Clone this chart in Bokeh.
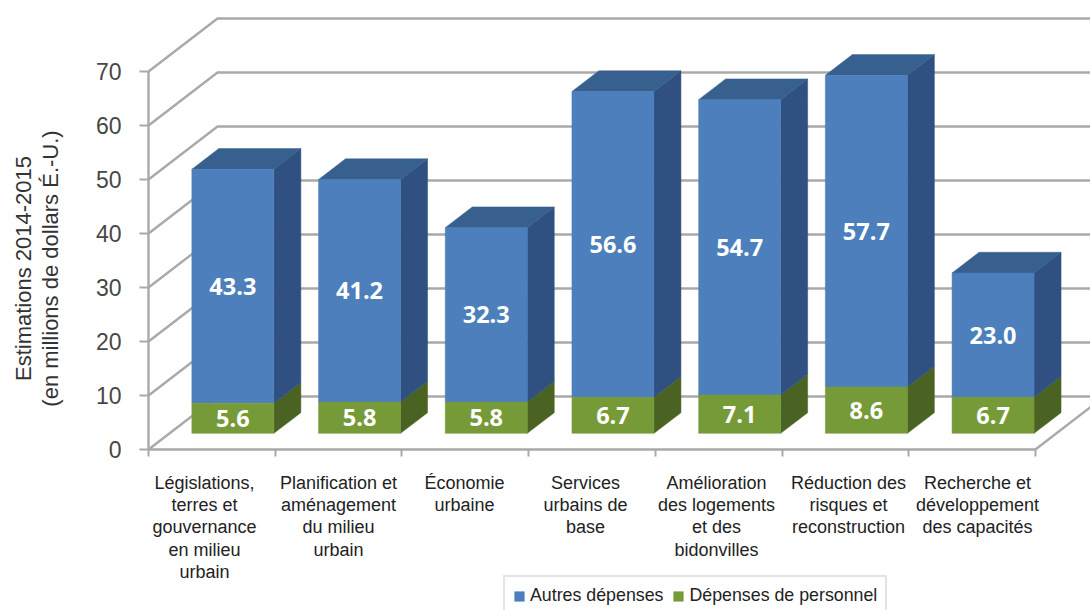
from bokeh.plotting import figure
from bokeh.models import Range1d, FixedTicker, Legend, LegendItem
from bokeh.core.properties import value
from bokeh.embed import file_html
from bokeh.resources import INLINE

# Stacked budget estimates, in millions of US dollars
categories = [
    "Législations,\nterres et\ngouvernance\nen milieu\nurbain",
    "Planification et\naménagement\ndu milieu\nurbain",
    "Économie\nurbaine",
    "Services\nurbains de\nbase",
    "Amélioration\ndes logements\net des\nbidonvilles",
    "Réduction des\nrisques et\nreconstruction",
    "Recherche et\ndéveloppement\ndes capacités",
]
autres = [43.3, 41.2, 32.3, 56.6, 54.7, 57.7, 23.0]
personnel = [5.6, 5.8, 5.8, 6.7, 7.1, 8.6, 6.7]
y_ticks = [0, 10, 20, 30, 40, 50, 60, 70]

W, H = 1090, 610
PX_X = 126.7      # pixels per category slot
PX_Y = 5.4        # pixels per million
X0, Y0 = 148, 449 # pixel position of the chart origin

# Oblique projection: a full step in depth moves this far in data units
DEPTH_X = 69 / PX_X
DEPTH_Y = 53 / PX_Y
BAR_NEAR, BAR_FAR = 21 / 69, 48 / 69
BAR_W = 82 / PX_X

GRID = "#a9a9a9"
BLUE, BLUE_SIDE, BLUE_TOP = "#4c7fbb", "#2f5080", "#37608f"
GREEN, GREEN_SIDE = "#779a38", "#4a6322"
FONT = "Liberation Sans"

p = figure(
    width=W, height=H, output_backend="svg", toolbar_location=None,
    x_range=Range1d(-X0 / PX_X, (W - X0) / PX_X),
    y_range=Range1d(-(H - Y0) / PX_Y, Y0 / PX_Y),
    min_border=0, outline_line_color=None, background_fill_color="white",
)
p.grid.visible = False

# Walls and floor of the box, behind the bars
n = len(categories)
for v in y_ticks:
    p.line([0, DEPTH_X, (W - X0) / PX_X], [v, v + DEPTH_Y, v + DEPTH_Y],
           line_color=GRID, line_width=2.4)
p.line([n, n + DEPTH_X], [0, DEPTH_Y], line_color=GRID, line_width=2.4)

# Axes sitting on the front edge of the box
xa = p.xaxis[0]
xa.fixed_location = 0
xa.bounds = (0, n)
xa.ticker = FixedTicker(ticks=list(range(n + 1)))
xa.major_label_text_font_size = "0px"
xa.major_label_text_color = None
xa.axis_line_color = GRID
xa.axis_line_width = 2.4
xa.major_tick_line_color = GRID
xa.major_tick_line_width = 2
xa.major_tick_out = 7
xa.major_tick_in = 0
xa.minor_tick_line_color = None

ya = p.yaxis[0]
ya.fixed_location = 0
ya.bounds = (0, 70)
ya.ticker = FixedTicker(ticks=y_ticks)
ya.axis_line_color = GRID
ya.axis_line_width = 2.4
ya.major_tick_line_color = GRID
ya.major_tick_line_width = 2
ya.major_tick_out = 9
ya.major_tick_in = 0
ya.minor_tick_line_color = None
ya.major_label_text_font = FONT
ya.major_label_text_font_size = "23px"
ya.major_label_text_color = "#474747"
ya.major_label_standoff = 18

base = BAR_NEAR * DEPTH_Y
near_dx, far_dx = BAR_NEAR * DEPTH_X, BAR_FAR * DEPTH_X
rise = (BAR_FAR - BAR_NEAR) * DEPTH_Y
run = far_dx - near_dx

lefts = [i + 0.5 + near_dx - BAR_W / 2 for i in range(n)]
rights = [l + BAR_W for l in lefts]
green_tops = [base + g for g in personnel]
blue_tops = [base + g + a for g, a in zip(personnel, autres)]
bases = [base] * n

# Side and top faces
p.patches(
    [[r, r + run, r + run, r] for r in rights],
    [[base, base + rise, t + rise, t] for t in green_tops],
    fill_color=GREEN_SIDE, line_color=GREEN_SIDE, line_width=0.5,
)
p.patches(
    [[r, r + run, r + run, r] for r in rights],
    [[g, g + rise, t + rise, t] for g, t in zip(green_tops, blue_tops)],
    fill_color=BLUE_SIDE, line_color=BLUE_SIDE, line_width=0.5,
)
p.patches(
    [[l, r, r + run, l + run] for l, r in zip(lefts, rights)],
    [[t, t, t + rise, t + rise] for t in blue_tops],
    fill_color=BLUE_TOP, line_color=BLUE_TOP, line_width=0.5,
)

# Front faces
blue_r = p.quad(left=lefts, right=rights, bottom=green_tops, top=blue_tops,
                fill_color=BLUE, line_color=BLUE, line_width=0.5)
green_r = p.quad(left=lefts, right=rights, bottom=bases, top=green_tops,
                 fill_color=GREEN, line_color=GREEN, line_width=0.5)

# Value labels in the middle of each segment
centers = [(l + r) / 2 for l, r in zip(lefts, rights)]
label_style = dict(
    text_color="white", text_font=value("Open Sans"), text_font_style="bold",
    text_font_size="23.5px", text_align="center", text_baseline="middle",
)
p.text(centers, [(g + t) / 2 for g, t in zip(green_tops, blue_tops)],
       text=[f"{a:.1f}" for a in autres], **label_style)
p.text(centers, [(b + g) / 2 for b, g in zip(bases, green_tops)],
       text=[f"{g:.1f}" for g in personnel], **label_style)

# Category captions under the axis
label_px = [204, 338, 464, 585, 716, 848, 977]
p.text([(x - X0) / PX_X for x in label_px], [(Y0 - 472) / PX_Y] * n, text=categories,
       text_font=value(FONT), text_font_size="18px", text_color="#222222",
       text_align="center", text_baseline="top", text_line_height=1.12)

# Two-line axis title
title_lines = ["Estimations 2014-2015", "(en millions de dollars É.-U.)"]
p.text([(23 - X0) / PX_X, (50 - X0) / PX_X], [(Y0 - 268) / PX_Y] * 2, text=title_lines,
       angle=1.5708, text_font=value(FONT), text_font_size="22px",
       text_color="#333333", text_align="center", text_baseline="middle")

legend = Legend(
    items=[LegendItem(label="Autres dépenses", renderers=[blue_r]),
           LegendItem(label="Dépenses de personnel", renderers=[green_r])],
    orientation="horizontal", location=(503, -6),
    glyph_width=12, glyph_height=12, label_text_font=FONT,
    label_text_font_size="17.8px", label_text_color="#222222",
    border_line_color="#c8c8c8", border_line_width=2, padding=8, spacing=9,
    label_standoff=5, margin=0, background_fill_alpha=1,
)
p.add_layout(legend, "center")

open("out.html", "w").write(file_html(p, INLINE))
